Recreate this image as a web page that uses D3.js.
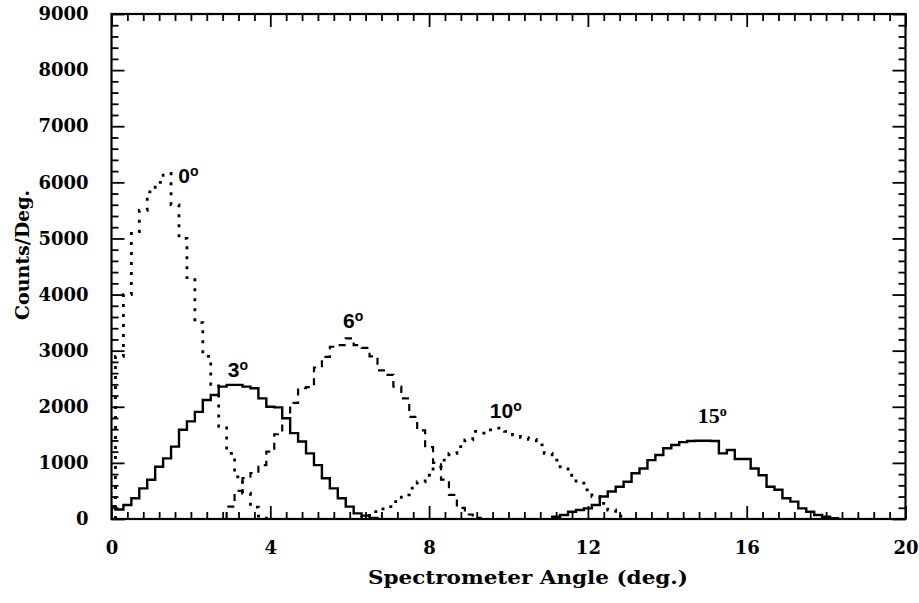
<!DOCTYPE html>
<html>
<head>
<meta charset="utf-8">
<script src="https://cdn.jsdelivr.net/npm/d3@7"></script>
<style>
  html, body { margin: 0; padding: 0; background: #fff; }
  svg { display: block; }
</style>
</head>
<body>
<svg id="chart" width="919" height="603"></svg>
<script>
// ---- data ----
const binWidth = 0.2;

const labels = ["0", "3", "6", "10", "15"];
const starts = [0.1, -0.1, 2.9, 6.3, 11.1];

const counts0 = [2900, 4000, 5120, 5500, 5830, 6000, 6160, 5600, 5000, 4300, 3500, 2900, 2400, 1650, 1170, 750, 460, 210, 50];
const counts3 = [230, 170, 250, 370, 545, 700, 930, 1080, 1290, 1590, 1740, 1910, 2120, 2210, 2360, 2390, 2390, 2360, 2330, 2150, 2000, 1990, 1795, 1530, 1380, 1170, 960, 725, 545, 370, 220, 100, 60, 20];
const counts6 = [220, 500, 730, 820, 960, 1200, 1510, 1800, 2070, 2330, 2350, 2700, 2890, 3070, 3100, 3220, 3100, 3050, 2900, 2650, 2570, 2360, 2150, 1820, 1580, 1280, 1000, 700, 430, 200, 80, 20];
const counts10 = [60, 130, 180, 220, 310, 430, 550, 660, 780, 930, 1050, 1170, 1290, 1410, 1560, 1530, 1590, 1620, 1560, 1500, 1450, 1420, 1320, 1170, 1050, 930, 780, 640, 520, 400, 280, 160, 50];
const counts15 = [40, 70, 130, 160, 190, 250, 400, 490, 575, 665, 815, 900, 1050, 1140, 1260, 1320, 1370, 1390, 1395, 1395, 1390, 1170, 1230, 1070, 1070, 900, 780, 575, 520, 370, 310, 190, 130, 70, 40, 15];

const seriesCounts = [counts0, counts3, counts6, counts10, counts15];
const labelAnchors = [[1.68, 5990], [2.93, 2531], [5.83, 3405], [9.53, 1800], [14.77, 1711]];

const xMajorTicks = [0, 4, 8, 12, 16, 20];
const yMajorTicks = [0, 1000, 2000, 3000, 4000, 5000, 6000, 7000, 8000, 9000];
const xTitle = "Spectrometer Angle (deg.)";
const yTitle = "Counts/Deg.";

// ---- layout ----
const L = 111.5, R = 905.5, T = 14, B = 519;
const x = d3.scaleLinear().domain([0, 20]).range([L, R]);
const y = d3.scaleLinear().domain([0, 9000]).range([B, T]);

const svg = d3.select("#chart");
const tickFont = "'DejaVu Serif', serif";

svg.append("defs").append("clipPath").attr("id", "plotclip")
  .append("rect").attr("x", L).attr("y", T).attr("width", R - L).attr("height", B - T);

const xMinor = d3.range(0, 20.001, 0.4).filter(v => Math.abs(v / 4 - Math.round(v / 4)) > 1e-6);
const yMinor = d3.range(0, 9000.1, 200).filter(v => v % 1000 !== 0);

function styleAxis(g) {
  g.select(".domain").remove();
  g.selectAll(".tick line").attr("stroke", "#000").attr("stroke-width", 1.8);
  g.selectAll(".tick text").attr("fill", "#000").attr("font-family", tickFont)
    .attr("font-weight", "bold").attr("font-size", 18);
}

// bottom
svg.append("g").attr("transform", `translate(0,${B})`)
  .call(d3.axisBottom(x).tickValues(xMajorTicks).tickSize(-13).tickPadding(22).tickFormat(d3.format("d")))
  .call(styleAxis);
svg.append("g").attr("transform", `translate(0,${B})`)
  .call(d3.axisBottom(x).tickValues(xMinor).tickSize(-7).tickFormat(""))
  .call(styleAxis);
// top
svg.append("g").attr("transform", `translate(0,${T})`)
  .call(d3.axisTop(x).tickValues(xMajorTicks).tickSize(-13).tickFormat(""))
  .call(styleAxis);
svg.append("g").attr("transform", `translate(0,${T})`)
  .call(d3.axisTop(x).tickValues(xMinor).tickSize(-7).tickFormat(""))
  .call(styleAxis);
// left
svg.append("g").attr("transform", `translate(${L},0)`)
  .call(d3.axisLeft(y).tickValues(yMajorTicks).tickSize(-13).tickPadding(23).tickFormat(d3.format("d")))
  .call(styleAxis);
svg.append("g").attr("transform", `translate(${L},0)`)
  .call(d3.axisLeft(y).tickValues(yMinor).tickSize(-7).tickFormat(""))
  .call(styleAxis);
// right
svg.append("g").attr("transform", `translate(${R},0)`)
  .call(d3.axisRight(y).tickValues(yMajorTicks).tickSize(-13).tickFormat(""))
  .call(styleAxis);
svg.append("g").attr("transform", `translate(${R},0)`)
  .call(d3.axisRight(y).tickValues(yMinor).tickSize(-7).tickFormat(""))
  .call(styleAxis);

// frame
svg.append("rect").attr("x", L).attr("y", T).attr("width", R - L).attr("height", B - T)
  .attr("fill", "none").attr("stroke", "#000").attr("stroke-width", 2.2);

// ---- histograms ----
const line = d3.line().x(d => x(d[0])).y(d => y(d[1])).curve(d3.curveStepAfter);
const styles = [
  { dash: "3,7", width: 2.8 },
  { dash: null, width: 2.4 },
  { dash: "7,6", width: 2.2 },
  { dash: "3,7", width: 2.8 },
  { dash: null, width: 2.4 }
];

const plot = svg.append("g").attr("clip-path", "url(#plotclip)");
seriesCounts.forEach((vals, i) => {
  const s = starts[i];
  const pts = [[s, 0]];
  vals.forEach((v, k) => pts.push([s + k * binWidth, v]));
  pts.push([s + vals.length * binWidth, 0]);
  const p = plot.append("path").datum(pts)
    .attr("d", line)
    .attr("fill", "none").attr("stroke", "#000")
    .attr("stroke-width", styles[i].width)
    .attr("stroke-linejoin", "miter");
  if (styles[i].dash) p.attr("stroke-dasharray", styles[i].dash);
});

// ---- curve labels ----
labels.forEach((lab, i) => {
  const t = svg.append("text")
    .attr("x", x(labelAnchors[i][0]))
    .attr("y", y(labelAnchors[i][1]))
    .attr("font-family", i === 4 ? "'Liberation Serif', serif" : "'Liberation Sans', sans-serif")
    .attr("font-weight", "bold")
    .attr("font-size", i === 4 ? 22 : 21)
    .attr("fill", "#000");
  t.append("tspan").text(lab);
  t.append("tspan").attr("font-size", 14).attr("dy", -7).text("o");
});

// ---- titles ----
svg.append("text")
  .attr("x", 368).attr("y", 584)
  .attr("textLength", 320).attr("lengthAdjust", "spacingAndGlyphs")
  .attr("font-family", tickFont).attr("font-weight", "bold").attr("font-size", 19)
  .attr("fill", "#000")
  .text(xTitle);

svg.append("text")
  .attr("transform", `translate(29,320) rotate(-90)`)
  .attr("textLength", 130).attr("lengthAdjust", "spacingAndGlyphs")
  .attr("font-family", tickFont).attr("font-weight", "bold").attr("font-size", 18)
  .attr("fill", "#000")
  .text(yTitle);
</script>
</body>
</html>
